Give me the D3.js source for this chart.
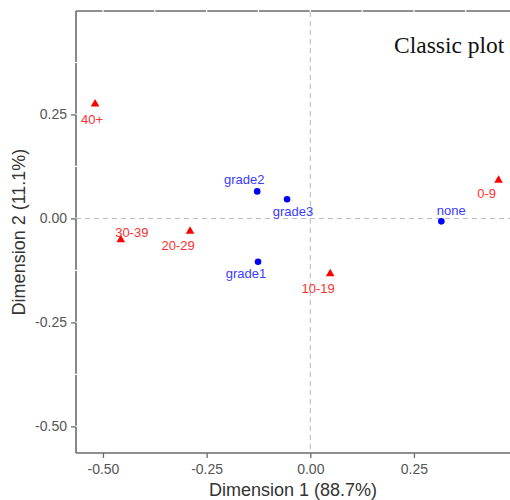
<!DOCTYPE html>
<html>
<head>
<meta charset="utf-8">
<script src="https://cdn.jsdelivr.net/npm/d3@7"></script>
<style>
  html, body { margin: 0; padding: 0; background: #fff; }
  svg { display: block; }
</style>
</head>
<body>
<svg id="chart" width="510" height="500"></svg>
<script>
// Row categories (circles)
const rowNames = ["none", "grade1", "grade2", "grade3"];
const rowDim1 = [0.316, -0.126, -0.128, -0.056];
const rowDim2 = [-0.007, -0.104, 0.065, 0.046];

// Column categories (triangles)
const colNames = ["0-9", "10-19", "20-29", "30-39", "40+"];
const colDim1 = [0.454, 0.048, -0.290, -0.457, -0.519];
const colDim2 = [0.092, -0.133, -0.031, -0.051, 0.275];

// Axis ticks
const xTicks = [-0.50, -0.25, 0.00, 0.25];
const yTicks = [-0.50, -0.25, 0.00, 0.25];
const xMinor = [-0.625, -0.375, -0.125, 0.125, 0.375];
const yMinor = [-0.375, -0.125, 0.125, 0.375];

// Repelled label placement (pixel nudges relative to each point)
const labelNudge = {
  "none": [10, -6], "grade1": [-12, 16], "grade2": [-13, -7], "grade3": [6, 17],
  "0-9": [-12, 18], "10-19": [-12, 19], "20-29": [-12, 19], "30-39": [11, -3], "40+": [-3, 20]
};

const svg = d3.select("#chart");
const pLeft = 76, pRight = 510, pTop = 11, pBottom = 453;

const x = d3.scaleLinear().domain([-0.565, 0.4816]).range([pLeft, pRight]);
const y = d3.scaleLinear().domain([-0.564, 0.4988]).range([pBottom, pTop]);

const axisCol = "#6b6b6b";

// Border lines (top, left, bottom)
svg.append("line").attr("x1", pLeft).attr("x2", pRight).attr("y1", pTop).attr("y2", pTop)
  .attr("stroke", axisCol).attr("stroke-width", 1.6);
svg.append("line").attr("x1", pLeft).attr("x2", pLeft).attr("y1", pTop).attr("y2", pBottom)
  .attr("stroke", axisCol).attr("stroke-width", 1.6);
svg.append("line").attr("x1", pLeft).attr("x2", pRight).attr("y1", pBottom).attr("y2", pBottom)
  .attr("stroke", axisCol).attr("stroke-width", 1.6);

// White grid lines crossing the border lines
const grid = svg.append("g").attr("stroke", "#fff").attr("stroke-width", 1.2);
xTicks.concat(xMinor).forEach(v => {
  if (x(v) > pLeft && x(v) < pRight)
    grid.append("line").attr("x1", x(v)).attr("x2", x(v)).attr("y1", pTop - 2).attr("y2", pTop + 2);
});
yTicks.concat(yMinor).forEach(v => {
  if (y(v) > pTop && y(v) < pBottom)
    grid.append("line").attr("x1", pLeft - 1).attr("x2", pLeft + 1).attr("y1", y(v)).attr("y2", y(v));
});

// Dashed reference lines through the origin
svg.append("line").attr("x1", pLeft).attr("x2", pRight).attr("y1", y(0)).attr("y2", y(0))
  .attr("stroke", "#bdbdbd").attr("stroke-width", 1.1).attr("stroke-dasharray", "5,4");
svg.append("line").attr("x1", x(0)).attr("x2", x(0)).attr("y1", pTop + 1).attr("y2", pBottom - 1)
  .attr("stroke", "#bdbdbd").attr("stroke-width", 1.1).attr("stroke-dasharray", "5,4");

// Axes
const fmt = d => d3.format(".2f")(d).replace("\u2212", "-");
const xAxis = d3.axisBottom(x).tickValues(xTicks).tickFormat(fmt).tickSize(5).tickPadding(6);
const yAxis = d3.axisLeft(y).tickValues(yTicks).tickFormat(fmt).tickSize(5).tickPadding(4);

const gx = svg.append("g").attr("transform", `translate(0,${pBottom})`).call(xAxis);
const gy = svg.append("g").attr("transform", `translate(${pLeft},0)`).call(yAxis);
[gx, gy].forEach(g => {
  g.select(".domain").remove();
  g.selectAll(".tick line").attr("stroke", axisCol).attr("stroke-width", 1.3);
  g.selectAll(".tick text").attr("fill", "#555").attr("font-family", "Liberation Sans, Arial, sans-serif")
    .attr("font-size", 14);
});

// Axis titles
svg.append("text").attr("x", (pLeft + pRight) / 2).attr("y", 496).attr("text-anchor", "middle")
  .attr("font-family", "Liberation Sans, Arial, sans-serif").attr("font-size", 18).attr("fill", "#333")
  .text("Dimension 1 (88.7%)");
svg.append("text").attr("transform", `translate(25,${(pTop + pBottom) / 2}) rotate(-90)`)
  .attr("text-anchor", "middle")
  .attr("font-family", "Liberation Sans, Arial, sans-serif").attr("font-size", 18).attr("fill", "#333")
  .text("Dimension 2 (11.1%)");

// Points
const rows = rowNames.map((n, i) => ({ name: n, d1: rowDim1[i], d2: rowDim2[i] }));
const cols = colNames.map((n, i) => ({ name: n, d1: colDim1[i], d2: colDim2[i] }));

svg.append("g").selectAll("circle").data(rows).join("circle")
  .attr("cx", d => x(d.d1)).attr("cy", d => y(d.d2)).attr("r", 3.3).attr("fill", "#0000ff");

const tri = d3.symbol().type(d3.symbolTriangle).size(32);
svg.append("g").selectAll("path").data(cols).join("path")
  .attr("d", tri).attr("transform", d => `translate(${x(d.d1)},${y(d.d2)})`).attr("fill", "#ff0000");

// Labels
const lab = svg.append("g").attr("font-family", "Liberation Sans, Arial, sans-serif")
  .attr("font-size", 13).attr("text-anchor", "middle");
lab.selectAll("text.row").data(rows).join("text").attr("class", "row")
  .attr("x", d => x(d.d1) + labelNudge[d.name][0]).attr("y", d => y(d.d2) + labelNudge[d.name][1])
  .attr("fill", "#3b3bff").text(d => d.name);
lab.selectAll("text.col").data(cols).join("text").attr("class", "col")
  .attr("x", d => x(d.d1) + labelNudge[d.name][0]).attr("y", d => y(d.d2) + labelNudge[d.name][1])
  .attr("fill", "#ff3030").text(d => d.name);

// Plot title
svg.append("text").attr("x", 394).attr("y", 53)
  .attr("font-family", "Liberation Serif, Times New Roman, serif").attr("font-size", 23.5).attr("fill", "#111")
  .text("Classic plot");
</script>
</body>
</html>
